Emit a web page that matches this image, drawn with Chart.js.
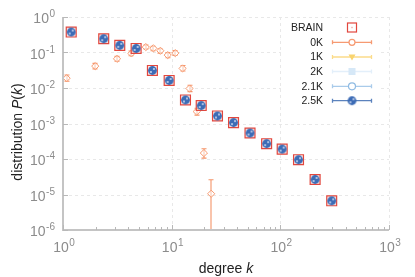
<!DOCTYPE html>
<html>
<head>
<meta charset="utf-8">
<script src="https://cdn.jsdelivr.net/npm/chart.js@4.4.1/dist/chart.umd.min.js"></script>
<style>
  html, body { margin: 0; padding: 0; background: #fff; }
</style>
</head>
<body>
<canvas id="degreeChart" width="415" height="277"></canvas>
<script>
// DATA ###############################################################
var degreeBins = [1.19, 2.37, 3.33, 4.71, 6.65, 9.48, 13.4, 18.7, 26.4, 37.1, 52.6, 74.8, 104, 147, 209, 297];
var brainP     = [0.377, 0.244, 0.159, 0.13, 0.0312, 0.0163, 0.00461, 0.0032, 0.00163, 0.00106, 0.00054, 0.00027, 0.00019, 0.0000955, 0.0000265, 0.00000664];
var p1K        = [0.377, 0.244, 0.159, 0.13, 0.0312, 0.0163, 0.00461, 0.0032, 0.00163, 0.00106, 0.00054, 0.00027, 0.00019, 0.0000955, 0.0000265, 0.00000664];
var p2K        = [0.377, 0.244, 0.159, 0.13, 0.0312, 0.0163, 0.00461, 0.0032, 0.00163, 0.00106, 0.00054, 0.00027, 0.00019, 0.0000955, 0.0000265, 0.00000664];
var p21K       = [0.377, 0.244, 0.159, 0.13, 0.0312, 0.0163, 0.00461, 0.0032, 0.00163, 0.00106, 0.00054, 0.00027, 0.00019, 0.0000955, 0.0000265, 0.00000664];
var p25K       = [0.377, 0.244, 0.159, 0.13, 0.0312, 0.0163, 0.00461, 0.0032, 0.00163, 0.00106, 0.00054, 0.00027, 0.00019, 0.0000955, 0.0000265, 0.00000664];

// 0K curve, its own bins
var zeroK  = [1.08, 1.98, 3.14, 4.26, 5.78, 6.79, 7.87, 9.2, 10.8, 12.6, 14.6, 17.0, 19.8, 23.1];
var zeroP  = [0.0189, 0.0413, 0.0664, 0.0943, 0.142, 0.131, 0.112, 0.0845, 0.096, 0.0356, 0.00968, 0.00217, 0.000147, 0.0000105];
var zeroLo = [0.0155, 0.0345, 0.0565, 0.081, 0.125, 0.112, 0.096, 0.071, 0.082, 0.030, 0.0079, 0.00172, 0.000106, 0.0000001];
var zeroHi = [0.0232, 0.0495, 0.078, 0.110, 0.162, 0.150, 0.128, 0.099, 0.113, 0.043, 0.0119, 0.0027, 0.000195, 0.000026];

var xDecades = [0, 1, 2, 3];
var yDecades = [0, -1, -2, -3, -4, -5, -6];
var seriesNames = ['BRAIN', '0K', '1K', '2K', '2.1K', '2.5K'];

var FONT = '"Liberation Sans", Arial, sans-serif';

function pts(xs, ys) {
    return xs.map(function(x, i) { return { x: x, y: ys[i] }; });
}

// filled blue marker with the little white specks
function makeBlueDot() {
    var c = document.createElement('canvas');
    c.width = 11; c.height = 11;
    var g = c.getContext('2d');
    g.fillStyle = '#3d6cb6';
    g.beginPath(); g.arc(5.5, 5.5, 4.4, 0, Math.PI * 2); g.fill();
    g.fillStyle = '#dbe6f6';
    g.beginPath(); g.arc(7.0, 4.0, 0.9, 0, Math.PI * 2); g.fill();
    g.beginPath(); g.arc(4.0, 7.0, 0.9, 0, Math.PI * 2); g.fill();
    return c;
}
var blueDot = makeBlueDot();

// "10" with superscript exponent
function drawPow(ctx, exp, x, y, align) {
    ctx.font = '14px ' + FONT;
    var wBase = ctx.measureText('10').width;
    ctx.font = '10px ' + FONT;
    var wExp = ctx.measureText(String(exp)).width;
    var total = wBase + wExp + 0.5;
    var x0 = align === 'right' ? x - total : x - total / 2;
    ctx.textAlign = 'left';
    ctx.textBaseline = 'alphabetic';
    ctx.font = '14px ' + FONT;
    ctx.fillText('10', x0, y);
    ctx.font = '10px ' + FONT;
    ctx.fillText(String(exp), x0 + wBase + 0.5, y - 6);
}

// GRID / AXES ########################################################
var frame = {
    id: 'frame',
    beforeDatasetsDraw: function(chart) {
        var ctx = chart.ctx, a = chart.chartArea;
        var xs = chart.scales.x, ys = chart.scales.y;
        ctx.save();
        ctx.strokeStyle = '#e8e8e8';
        ctx.lineWidth = 1;
        ctx.setLineDash([3, 3]);
        xDecades.forEach(function(d) {
            var px = Math.round(xs.getPixelForValue(Math.pow(10, d))) + 0.5;
            if (d === 0) return;
            ctx.beginPath(); ctx.moveTo(px, a.top); ctx.lineTo(px, a.bottom); ctx.stroke();
        });
        yDecades.forEach(function(d) {
            var py = Math.round(ys.getPixelForValue(Math.pow(10, d))) + 0.5;
            if (d === -6) return;
            ctx.beginPath(); ctx.moveTo(a.left, py); ctx.lineTo(a.right, py); ctx.stroke();
        });
        ctx.setLineDash([]);

        // 0K error bars
        ctx.beginPath();
        ctx.rect(a.left, a.top, a.right - a.left, a.bottom - a.top);
        ctx.clip();
        ctx.strokeStyle = '#f59469';
        ctx.lineWidth = 1.1;
        zeroK.forEach(function(k, i) {
            var px = Math.round(xs.getPixelForValue(k));
            var yHi = ys.getPixelForValue(zeroHi[i]);
            var yLo = ys.getPixelForValue(zeroLo[i]);
            ctx.beginPath();
            ctx.moveTo(px, yHi); ctx.lineTo(px, yLo);
            ctx.moveTo(px - 2.5, yHi); ctx.lineTo(px + 2.5, yHi);
            ctx.moveTo(px - 2.5, yLo); ctx.lineTo(px + 2.5, yLo);
            ctx.stroke();
        });
        ctx.restore();
    },
    afterDraw: function(chart) {
        var ctx = chart.ctx, a = chart.chartArea;
        var xs = chart.scales.x, ys = chart.scales.y;
        ctx.save();

        // axis lines
        ctx.strokeStyle = '#c4c4c4';
        ctx.lineWidth = 2;
        ctx.beginPath();
        ctx.moveTo(a.left, a.top); ctx.lineTo(a.left, a.bottom); ctx.lineTo(a.right, a.bottom);
        ctx.stroke();

        // ticks
        ctx.lineWidth = 1;
        ctx.strokeStyle = '#b8b8b8';
        ctx.beginPath();
        for (var d = 0; d < 3; d++) {
            for (var m = 1; m <= 10; m++) {
                var px = Math.round(xs.getPixelForValue(m * Math.pow(10, d))) + 0.5;
                var len = (m === 1 || m === 10) ? 5 : 3;
                ctx.moveTo(px, a.bottom); ctx.lineTo(px, a.bottom - len);
            }
        }
        yDecades.forEach(function(d) {
            var py = Math.round(ys.getPixelForValue(Math.pow(10, d))) + 0.5;
            ctx.moveTo(a.left, py); ctx.lineTo(a.left + 5, py);
        });
        ctx.stroke();

        // tick labels
        ctx.fillStyle = '#8c8c8c';
        xDecades.forEach(function(d) {
            drawPow(ctx, d, xs.getPixelForValue(Math.pow(10, d)) + 1, a.bottom + 22, 'center');
        });
        yDecades.forEach(function(d) {
            drawPow(ctx, d, a.left - 8, ys.getPixelForValue(Math.pow(10, d)) + 6, 'right');
        });

        // axis titles
        ctx.fillStyle = '#222';
        var parts = [['degree ', ''], ['k', 'italic ']];
        ctx.textBaseline = 'alphabetic';
        ctx.textAlign = 'left';
        var w = 0;
        parts.forEach(function(p) { ctx.font = p[1] + '14px ' + FONT; w += ctx.measureText(p[0]).width; });
        var cx = (a.left + a.right) / 2 - w / 2;
        parts.forEach(function(p) {
            ctx.font = p[1] + '14px ' + FONT;
            ctx.fillText(p[0], cx, 273);
            cx += ctx.measureText(p[0]).width;
        });

        var yparts = [['distribution ', ''], ['P', 'italic '], ['(', ''], ['k', 'italic '], [')', '']];
        w = 0;
        yparts.forEach(function(p) { ctx.font = p[1] + '14px ' + FONT; w += ctx.measureText(p[0]).width; });
        ctx.translate(22, 132);
        ctx.rotate(-Math.PI / 2);
        cx = -w / 2;
        yparts.forEach(function(p) {
            ctx.font = p[1] + '14px ' + FONT;
            ctx.fillText(p[0], cx, 0);
            cx += ctx.measureText(p[0]).width;
        });
        ctx.restore();

        drawLegend(ctx);
    }
};

// LEGEND #############################################################
function drawLegend(ctx) {
    ctx.save();
    ctx.fillStyle = '#fff';
    ctx.fillRect(281, 18, 100, 93);
    var labelX = 323, x1 = 332, x2 = 372, mx = 352;
    var rowY = [27.5, 42.3, 57, 71.5, 86.3, 100.7];
    var lineCols = [null, '#f69a72', '#fbdc8a', '#e3effa', '#a9cbea', '#5b82bd'];

    ctx.font = '10.5px ' + FONT;
    ctx.textAlign = 'right';
    ctx.textBaseline = 'middle';
    ctx.fillStyle = '#222';
    seriesNames.forEach(function(n, i) { ctx.fillText(n, labelX, rowY[i] + 0.5); });

    rowY.forEach(function(y, i) {
        if (!lineCols[i]) return;
        ctx.strokeStyle = lineCols[i];
        ctx.lineWidth = 1.3;
        ctx.beginPath();
        ctx.moveTo(x1, y); ctx.lineTo(x2, y);
        ctx.moveTo(x1 + 0.5, y - 2); ctx.lineTo(x1 + 0.5, y + 2);
        ctx.moveTo(x2 - 0.5, y - 2); ctx.lineTo(x2 - 0.5, y + 2);
        ctx.stroke();
    });

    // BRAIN
    ctx.strokeStyle = '#e2473e';
    ctx.lineWidth = 1.2;
    ctx.strokeRect(mx - 4.5, rowY[0] - 4.5, 9, 9);
    ctx.fillStyle = '#f3a9a2';
    ctx.fillRect(mx - 0.7, rowY[0] - 0.7, 1.4, 1.4);
    // 0K
    ctx.strokeStyle = '#f69a72';
    ctx.fillStyle = '#fff';
    ctx.beginPath(); ctx.arc(mx, rowY[1], 3, 0, Math.PI * 2); ctx.fill(); ctx.stroke();
    // 1K
    ctx.fillStyle = '#f9d46e';
    ctx.beginPath();
    ctx.moveTo(mx - 3.5, rowY[2] - 2.5); ctx.lineTo(mx + 3.5, rowY[2] - 2.5); ctx.lineTo(mx, rowY[2] + 3.5);
    ctx.closePath(); ctx.fill();
    // 2K
    ctx.fillStyle = '#d6e8f7';
    ctx.fillRect(mx - 3.5, rowY[3] - 3.5, 7, 7);
    // 2.1K
    ctx.strokeStyle = '#8fbbe3';
    ctx.fillStyle = '#fff';
    ctx.beginPath(); ctx.arc(mx, rowY[4], 3.5, 0, Math.PI * 2); ctx.fill(); ctx.stroke();
    // 2.5K
    ctx.drawImage(blueDot, mx - 5.5, rowY[5] - 5.5);
    ctx.restore();
}

// CHART ##############################################################
document.addEventListener('DOMContentLoaded', function() {
    var ctx = document.getElementById('degreeChart').getContext('2d');

    new Chart(ctx, {
        type: 'scatter',
        data: {
            datasets: [
                {
                    label: '2.5K', data: pts(degreeBins, p25K), order: 0,
                    pointStyle: blueDot, pointRadius: 5
                },
                {
                    label: '2.1K', data: pts(degreeBins, p21K), order: 1,
                    pointStyle: 'circle', pointRadius: 3.5,
                    borderColor: '#8fbbe3', backgroundColor: '#fff', borderWidth: 1
                },
                {
                    label: '2K', data: pts(degreeBins, p2K), order: 2,
                    pointStyle: 'rect', pointRadius: 4,
                    borderColor: '#d6e8f7', backgroundColor: '#d6e8f7', borderWidth: 0
                },
                {
                    label: '1K', data: pts(degreeBins, p1K), order: 3,
                    pointStyle: 'triangle', rotation: 180, pointRadius: 3.5,
                    borderColor: '#f9d46e', backgroundColor: '#f9d46e', borderWidth: 0
                },
                {
                    label: 'BRAIN', data: pts(degreeBins, brainP), order: 4,
                    pointStyle: 'rect', pointRadius: 7,
                    borderColor: '#e2473e', backgroundColor: 'rgba(244,180,170,0.3)', borderWidth: 1.2
                },
                {
                    label: '0K', data: pts(zeroK, zeroP), order: 5,
                    pointStyle: 'rectRot', pointRadius: 3.6,
                    borderColor: '#f79a70', backgroundColor: 'rgba(255,255,255,0.5)', borderWidth: 1
                }
            ]
        },
        options: {
            responsive: false,
            animation: false,
            layout: { padding: { top: 17, right: 26, left: 0, bottom: 0 } },
            plugins: { legend: { display: false }, tooltip: { enabled: false } },
            scales: {
                x: {
                    type: 'logarithmic', min: 1, max: 1000,
                    grid: { display: false }, border: { display: false },
                    ticks: { display: false },
                    afterFit: function(s) { s.height = 47; }
                },
                y: {
                    type: 'logarithmic', min: 1e-6, max: 1,
                    grid: { display: false }, border: { display: false },
                    ticks: { display: false },
                    afterFit: function(s) { s.width = 63; }
                }
            }
        },
        plugins: [frame]
    });
});
</script>
</body>
</html>
